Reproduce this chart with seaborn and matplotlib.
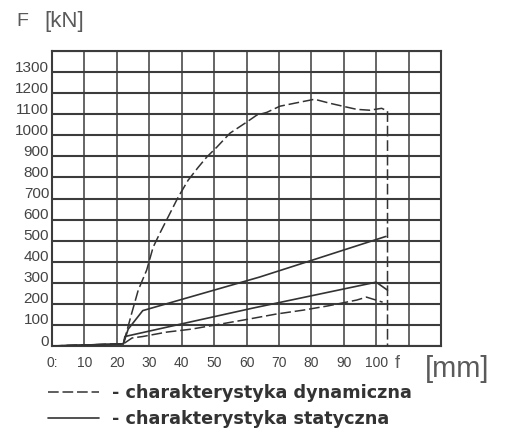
import matplotlib
matplotlib.use("Agg")
import matplotlib.pyplot as plt
import matplotlib.transforms as mtransforms
import seaborn as sns

sns.set_style("white")
plt.rcParams["font.family"] = ["Liberation Sans", "DejaVu Sans"]

# --- dane (f [mm], F [kN]) ---
dyn_high_f = [0, 22, 22.5, 24.6, 26.6, 29.2, 31.2, 33.3, 36.9, 38.9, 42.0, 45.1, 47.7,
              50.8, 54.9, 60.0, 63.1, 66.3, 70.3, 76.4, 81.0, 85.7, 89.7, 94.0, 98.0,
              101.7, 103.5, 103.5]
dyn_high_F = [0, 10, 38, 156, 265, 360, 469, 536, 645, 706, 787, 848, 896,
              943, 1010, 1062, 1095, 1109, 1138, 1157, 1171, 1152, 1138, 1123, 1119,
              1128, 1115, 0]

dyn_low_f = [0, 22, 24.7, 28.0, 35.4, 43.0, 59.0, 69.3, 77.4, 85.0, 94.0, 97.0, 102.0]
dyn_low_F = [0, 10, 38, 45, 66, 80, 123, 152, 170, 190, 218, 232, 208]

stat_high_f = [0, 22, 23.5, 28.0, 64.0, 80.0, 103.0]
stat_high_F = [0, 10, 80, 168, 327, 406, 520]

stat_low_f = [0, 22, 22.5, 40.0, 62.0, 100.0, 103.5]
stat_low_F = [0, 10, 45, 105, 180, 303, 265]

y_ticks = [0, 100, 200, 300, 400, 500, 600, 700, 800, 900, 1000, 1100, 1200, 1300]
x_ticks = [0, 10, 20, 30, 40, 50, 60, 70, 80, 90, 100]
x_labels = ["0:", "10", "20", "30", "40", "50", "60", "70", "80", "90", "100"]

INK = "#333333"
GRID = "#3c3c3c"

W, H = 509, 430
fig = plt.figure(figsize=(W / 100, H / 100), dpi=100)
ax = fig.add_axes([52 / W, 1 - 346 / H, (441 - 52) / W, (346 - 51) / H])

# siatka
for yv in range(0, 1500, 100):
    ax.axhline(yv, color=GRID, lw=1.5, zorder=1)
for xv in range(0, 130, 10):
    ax.axvline(xv, color=GRID, lw=1.1, zorder=1)

dash = (0, (7, 2.5))
sns.lineplot(x=dyn_high_f, y=dyn_high_F, sort=False, estimator=None, ax=ax,
             color=INK, lw=1.1, linestyle=dash, label="- charakterystyka dynamiczna", zorder=3)
sns.lineplot(x=dyn_low_f, y=dyn_low_F, sort=False, estimator=None, ax=ax,
             color=INK, lw=1.1, linestyle=dash, zorder=3)
sns.lineplot(x=stat_high_f, y=stat_high_F, sort=False, estimator=None, ax=ax,
             color=INK, lw=1.2, label="- charakterystyka statyczna", zorder=3)
sns.lineplot(x=stat_low_f, y=stat_low_F, sort=False, estimator=None, ax=ax,
             color=INK, lw=1.2, zorder=3)

ax.set_xlim(0, 120)
ax.set_ylim(0, 1400)
ax.set_xticks(x_ticks)
ax.set_xticklabels(x_labels)
ax.set_yticks(y_ticks)
ax.set_yticklabels([str(v) for v in y_ticks])
ax.tick_params(axis="both", length=0, colors="#444444")
ax.tick_params(axis="x", pad=7, labelsize=10)
ax.tick_params(axis="y", pad=2, labelsize=11)
offset = mtransforms.ScaledTranslation(0, 6 / 100, fig.dpi_scale_trans)
for lab in ax.get_yticklabels():
    lab.set_transform(lab.get_transform() + offset)
for sp in ax.spines.values():
    sp.set_color(GRID)
    sp.set_linewidth(1.5)
ax.set_xlabel("")
ax.set_ylabel("")

# opisy osi
fig.text(16 / W, 1 - 21 / H, "F", fontsize=14, color="#5a5a5a", va="center", ha="left")
fig.text(44 / W, 1 - 22 / H, "[kN]", fontsize=16, color="#5a5a5a", va="center", ha="left")
fig.text(397 / W, 1 - 364 / H, "f", fontsize=13, color="#5a5a5a", va="center", ha="center")
fig.text(425 / W, 1 - 369 / H, "[mm]", fontsize=21, color="#5a5a5a", va="center", ha="left")

handles, labels = ax.get_legend_handles_labels()
ax.get_legend().remove()
fig.legend(handles, labels, loc="upper left", bbox_to_anchor=(48 / W, 1 - 384 / H),
           frameon=False, borderpad=0, borderaxespad=0, handlelength=2.9,
           handletextpad=0.75, labelspacing=0.45,
           prop={"weight": "bold", "size": 12.7, "family": "DejaVu Sans"},
           labelcolor="#333333")

fig.savefig("out.png", dpi=100)
